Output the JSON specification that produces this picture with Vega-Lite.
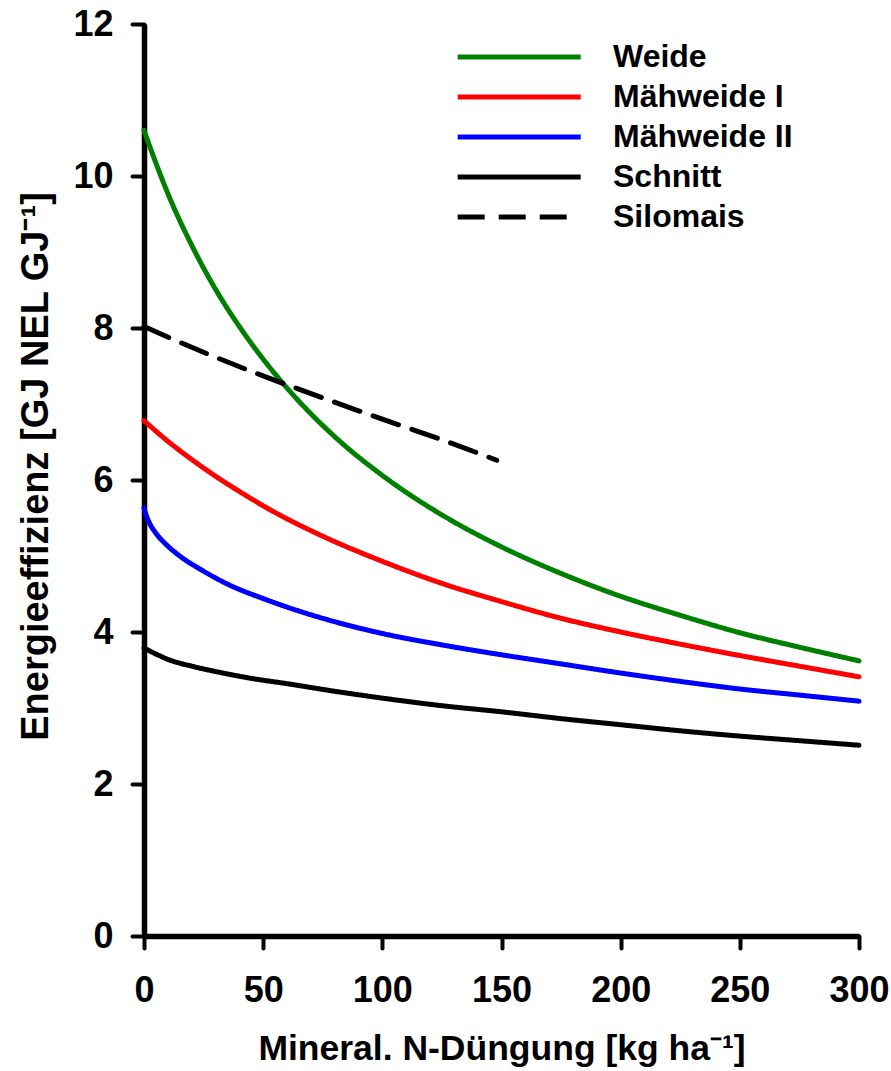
{
  "$schema": "https://vega.github.io/schema/vega-lite/v6.json",
  "autosize": "none",
  "width": 715,
  "height": 912,
  "padding": {"left": 144, "top": 24, "right": 32, "bottom": 135},
  "background": "white",
  "config": {
    "view": {"stroke": null},
    "font": "Liberation Sans",
    "axis": {
      "grid": false,
      "domainColor": "black",
      "domainWidth": 5.5,
      "tickColor": "black",
      "tickWidth": 4,
      "tickSize": 12,
      "tickCap": "round",
      "labelFont": "Liberation Sans",
      "labelFontWeight": "bold",
      "labelFontSize": 36,
      "labelColor": "black",
      "labelFlush": false,
      "labelOverlap": false,
      "titleFont": "Liberation Sans",
      "titleFontWeight": "bold",
      "titleColor": "black"
    },
    "legend": {
      "labelFont": "Liberation Sans",
      "labelFontWeight": "bold",
      "labelFontSize": 32,
      "labelColor": "black",
      "labelLimit": 0
    }
  },
  "data": {
    "values": [
      {"s": "Weide", "x": 0, "y": 10.6},
      {"s": "Weide", "x": 5, "y": 10.17},
      {"s": "Weide", "x": 10, "y": 9.77},
      {"s": "Weide", "x": 20, "y": 9.09},
      {"s": "Weide", "x": 30, "y": 8.51},
      {"s": "Weide", "x": 40, "y": 8.02},
      {"s": "Weide", "x": 50, "y": 7.59},
      {"s": "Weide", "x": 60, "y": 7.21},
      {"s": "Weide", "x": 80, "y": 6.57},
      {"s": "Weide", "x": 100, "y": 6.06},
      {"s": "Weide", "x": 125, "y": 5.54},
      {"s": "Weide", "x": 150, "y": 5.12},
      {"s": "Weide", "x": 175, "y": 4.77},
      {"s": "Weide", "x": 200, "y": 4.47},
      {"s": "Weide", "x": 225, "y": 4.22},
      {"s": "Weide", "x": 250, "y": 3.99},
      {"s": "Weide", "x": 275, "y": 3.8},
      {"s": "Weide", "x": 300, "y": 3.62},
      {"s": "Mähweide I", "x": 0, "y": 6.78},
      {"s": "Mähweide I", "x": 10, "y": 6.51},
      {"s": "Mähweide I", "x": 20, "y": 6.27},
      {"s": "Mähweide I", "x": 30, "y": 6.05},
      {"s": "Mähweide I", "x": 40, "y": 5.85},
      {"s": "Mähweide I", "x": 50, "y": 5.66},
      {"s": "Mähweide I", "x": 75, "y": 5.26},
      {"s": "Mähweide I", "x": 100, "y": 4.93},
      {"s": "Mähweide I", "x": 125, "y": 4.64},
      {"s": "Mähweide I", "x": 150, "y": 4.4},
      {"s": "Mähweide I", "x": 175, "y": 4.18},
      {"s": "Mähweide I", "x": 200, "y": 4.0},
      {"s": "Mähweide I", "x": 225, "y": 3.84},
      {"s": "Mähweide I", "x": 250, "y": 3.69},
      {"s": "Mähweide I", "x": 275, "y": 3.55},
      {"s": "Mähweide I", "x": 300, "y": 3.41},
      {"s": "Mähweide II", "x": 0, "y": 5.63},
      {"s": "Mähweide II", "x": 1, "y": 5.53},
      {"s": "Mähweide II", "x": 2.5, "y": 5.42},
      {"s": "Mähweide II", "x": 5, "y": 5.3},
      {"s": "Mähweide II", "x": 10, "y": 5.13},
      {"s": "Mähweide II", "x": 15, "y": 5.0},
      {"s": "Mähweide II", "x": 25, "y": 4.8},
      {"s": "Mähweide II", "x": 35, "y": 4.63},
      {"s": "Mähweide II", "x": 50, "y": 4.44},
      {"s": "Mähweide II", "x": 75, "y": 4.18},
      {"s": "Mähweide II", "x": 100, "y": 3.98},
      {"s": "Mähweide II", "x": 125, "y": 3.83},
      {"s": "Mähweide II", "x": 150, "y": 3.7},
      {"s": "Mähweide II", "x": 175, "y": 3.58},
      {"s": "Mähweide II", "x": 200, "y": 3.46},
      {"s": "Mähweide II", "x": 225, "y": 3.35},
      {"s": "Mähweide II", "x": 250, "y": 3.25},
      {"s": "Mähweide II", "x": 275, "y": 3.17},
      {"s": "Mähweide II", "x": 300, "y": 3.09},
      {"s": "Schnitt", "x": 0, "y": 3.79},
      {"s": "Schnitt", "x": 5, "y": 3.71},
      {"s": "Schnitt", "x": 10, "y": 3.64},
      {"s": "Schnitt", "x": 20, "y": 3.55},
      {"s": "Schnitt", "x": 30, "y": 3.48},
      {"s": "Schnitt", "x": 45, "y": 3.39},
      {"s": "Schnitt", "x": 60, "y": 3.32},
      {"s": "Schnitt", "x": 80, "y": 3.22},
      {"s": "Schnitt", "x": 100, "y": 3.13},
      {"s": "Schnitt", "x": 125, "y": 3.03},
      {"s": "Schnitt", "x": 150, "y": 2.95},
      {"s": "Schnitt", "x": 175, "y": 2.86},
      {"s": "Schnitt", "x": 200, "y": 2.78},
      {"s": "Schnitt", "x": 225, "y": 2.7},
      {"s": "Schnitt", "x": 250, "y": 2.63},
      {"s": "Schnitt", "x": 275, "y": 2.57},
      {"s": "Schnitt", "x": 300, "y": 2.51},
      {"s": "Silomais", "x": 0, "y": 8.02},
      {"s": "Silomais", "x": 25, "y": 7.68},
      {"s": "Silomais", "x": 50, "y": 7.37},
      {"s": "Silomais", "x": 75, "y": 7.08},
      {"s": "Silomais", "x": 100, "y": 6.8},
      {"s": "Silomais", "x": 125, "y": 6.53},
      {"s": "Silomais", "x": 148, "y": 6.26}
    ]
  },
  "mark": {"type": "line", "strokeWidth": 5, "strokeCap": "round", "interpolate": "monotone", "clip": false},
  "encoding": {
    "x": {
      "field": "x",
      "type": "quantitative",
      "scale": {"domain": [0, 300], "nice": false, "zero": false},
      "axis": {
        "values": [0, 50, 100, 150, 200, 250, 300],
        "labelPadding": 25,
        "title": "Mineral. N-Düngung [kg ha⁻¹]",
        "titleFontSize": 35.5,
        "titlePadding": 23
      }
    },
    "y": {
      "field": "y",
      "type": "quantitative",
      "scale": {"domain": [0, 12], "nice": false},
      "axis": {
        "values": [0, 2, 4, 6, 8, 10, 12],
        "labelPadding": 19,
        "title": "Energieeffizienz [GJ NEL GJ⁻¹]",
        "titleFontSize": 38,
        "titleY": 442,
        "titlePadding": 17
      }
    },
    "color": {
      "field": "s",
      "type": "nominal",
      "scale": {
        "domain": ["Weide", "Mähweide I", "Mähweide II", "Schnitt", "Silomais"],
        "range": ["#008000", "#ff0000", "#0000ff", "#000000", "#000000"]
      },
      "legend": {
        "title": null,
        "orient": "none",
        "legendX": 310,
        "legendY": 17,
        "padding": 0,
        "symbolType": "M-1,0L9,0",
        "symbolSize": 605,
        "symbolStrokeWidth": 5,
        "labelOffset": 127,
        "rowPadding": 8
      }
    },
    "strokeDash": {
      "field": "s",
      "type": "nominal",
      "scale": {
        "domain": ["Weide", "Mähweide I", "Mähweide II", "Schnitt", "Silomais"],
        "range": [[1, 0], [1, 0], [1, 0], [1, 0], [27, 14]]
      },
      "legend": {
        "title": null,
        "orient": "none",
        "legendX": 310,
        "legendY": 17,
        "padding": 0,
        "symbolType": "M-1,0L9,0",
        "symbolSize": 605,
        "symbolStrokeWidth": 5,
        "labelOffset": 127,
        "rowPadding": 8
      }
    }
  }
}
